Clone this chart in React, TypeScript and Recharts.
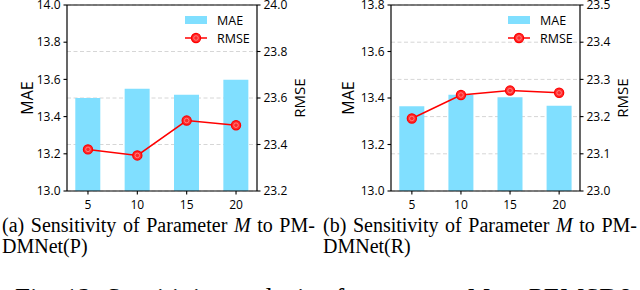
import React from 'react';
import {
  ComposedChart, Bar, Line, XAxis, YAxis, CartesianGrid, ReferenceLine,
} from 'recharts';

const mParams = ['5', '10', '15', '20'];
const maeP = [13.5, 13.55, 13.518, 13.598];
const rmseP = [23.379, 23.353, 23.503, 23.483];
const maeR = [13.364, 13.414, 13.403, 13.367];
const rmseR = [23.195, 23.258, 23.27, 23.264];

const maeTicksP = [13.0, 13.2, 13.4, 13.6, 13.8, 14.0];
const rmseTicksP = [23.2, 23.4, 23.6, 23.8, 24.0];
const maeTicksR = [13.0, 13.2, 13.4, 13.6, 13.8];
const rmseTicksR = [23.0, 23.1, 23.2, 23.3, 23.4, 23.5];

const BAR_COLOR = '#80dfff';
const LINE_COLOR = '#ff0000';
const FONT = '"Open Sans", "Noto Sans", sans-serif';

const RmseDot = (props: any) => {
  const { cx, cy } = props;
  if (cx == null || cy == null) return null;
  return (
    <g>
      <circle cx={cx} cy={cy} r={4.6} fill="#ff2a2a" stroke={LINE_COLOR} strokeWidth={1.2} />
      <circle cx={cx} cy={cy} r={2.3} fill="none" stroke="#ff9090" strokeWidth={0.8} />
    </g>
  );
};

type PanelProps = {
  mae: number[];
  rmse: number[];
  maeTicks: number[];
  rmseTicks: number[];
  leftW: number;
  rightW: number;
  maeOffset: number;
  rmseOffset: number;
  legendX: number;
  left: number;
};

const Panel = (p: PanelProps) => {
  const data = mParams.map((m, i) => ({ idx: i, m, mae: p.mae[i], rmse: p.rmse[i] }));
  const tickStyle = { fontSize: 12, fill: '#000', fontFamily: FONT };
  const axisLine = { stroke: '#000', strokeWidth: 1.2 };
  const tickLine = { stroke: '#000', strokeWidth: 1.1 };
  const maeDom: [number, number] = [p.maeTicks[0], p.maeTicks[p.maeTicks.length - 1]];
  const rmseDom: [number, number] = [p.rmseTicks[0], p.rmseTicks[p.rmseTicks.length - 1]];
  return (
    <div style={{ position: 'absolute', left: p.left, top: 0, width: 320, height: 225 }}>
      <ComposedChart width={320} height={225} data={data}
        margin={{ top: 5, right: 0, bottom: 0, left: 0 }}>
        <CartesianGrid yAxisId="right" vertical={false} stroke="#d6d6d6"
          strokeDasharray="4 2.5" strokeWidth={1} />
        <XAxis dataKey="idx" type="number" domain={[-0.425, 3.425]} ticks={[0, 1, 2, 3]}
          allowDataOverflow tickFormatter={(v: number) => mParams[v] ?? ''}
          height={34} tickSize={3.5} tickMargin={5.5} tick={tickStyle}
          axisLine={axisLine} tickLine={tickLine} interval={0} />
        <YAxis yAxisId="left" orientation="left" width={p.leftW} domain={maeDom}
          ticks={p.maeTicks} allowDataOverflow tickFormatter={(v: number) => v.toFixed(1)}
          tickSize={3.5} tickMargin={3} tick={tickStyle} axisLine={axisLine} tickLine={tickLine}
          interval={0}
          label={{ value: 'MAE', angle: -90, position: 'insideLeft', offset: p.maeOffset,
            style: { textAnchor: 'middle', fontSize: 16, fill: '#000', fontFamily: FONT } }} />
        <YAxis yAxisId="right" orientation="right" width={p.rightW} domain={rmseDom}
          ticks={p.rmseTicks} allowDataOverflow tickFormatter={(v: number) => v.toFixed(1)}
          tickSize={3.5} tickMargin={3} tick={tickStyle} axisLine={axisLine} tickLine={tickLine}
          interval={0}
          label={{ value: 'RMSE', angle: -90, position: 'insideRight', offset: p.rmseOffset,
            style: { textAnchor: 'middle', fontSize: 15, fill: '#000', fontFamily: FONT } }} />
        <Bar yAxisId="left" dataKey="mae" name="MAE" fill={BAR_COLOR} barSize={25}
          isAnimationActive={false} />
        <Line yAxisId="right" dataKey="rmse" name="RMSE" stroke={LINE_COLOR} strokeWidth={1.5}
          dot={<RmseDot />} activeDot={false} isAnimationActive={false} type="linear" />
        <ReferenceLine yAxisId="left" y={maeDom[1]} stroke="#000" strokeWidth={1.2} />
      </ComposedChart>
      <div style={{ position: 'absolute', left: p.legendX, top: 11, fontFamily: FONT,
        fontSize: 12.5, color: '#000', lineHeight: '17px' }}>
        <div style={{ display: 'flex', alignItems: 'center', height: 18 }}>
          <svg width={22} height={10} style={{ marginRight: 10 }}>
            <rect x={0} y={1} width={22} height={8} fill={BAR_COLOR} />
          </svg>
          <span>MAE</span>
        </div>
        <div style={{ display: 'flex', alignItems: 'center', height: 18 }}>
          <svg width={22} height={12} style={{ marginRight: 10 }}>
            <line x1={0} y1={6} x2={22} y2={6} stroke={LINE_COLOR} strokeWidth={1.5} />
            <RmseDot cx={11} cy={6} />
          </svg>
          <span>RMSE</span>
        </div>
      </div>
    </div>
  );
};

const SERIF = '"Liberation Serif", "Times New Roman", serif';
const capStyle = { fontFamily: SERIF, fontSize: 20, fill: '#000' };

export default function App() {
  return (
    <div style={{ position: 'absolute', left: 0, top: 0, width: 640, height: 290,
      background: '#fff', overflow: 'hidden' }}>
      <Panel mae={maeP} rmse={rmseP} maeTicks={maeTicksP} rmseTicks={rmseTicksP}
        leftW={67} rightW={63} maeOffset={27} rmseOffset={20} legendX={185} left={0} />
      <Panel mae={maeR} rmse={rmseR} maeTicks={maeTicksR} rmseTicks={rmseTicksR}
        leftW={71} rightW={60} maeOffset={28} rmseOffset={17} legendX={188} left={320} />
      <svg width={640} height={310} style={{ position: 'absolute', left: 0, top: 0 }}>
        <text x={2} y={232} style={{ ...capStyle, wordSpacing: 1.6 }}>
          (a) Sensitivity of Parameter <tspan fontStyle="italic">M</tspan> to PM-
        </text>
        <text x={2} y={253} style={capStyle}>DMNet(P)</text>
        <text x={323} y={232} style={{ ...capStyle, wordSpacing: 1.6 }}>
          (b) Sensitivity of Parameter <tspan fontStyle="italic">M</tspan> to PM-
        </text>
        <text x={323} y={253} style={capStyle}>DMNet(R)</text>
        <text x={15} y={307} style={{ ...capStyle, fontSize: 27 }}>
          Fig. 12: Sensitivity analysis of parameter <tspan fontStyle="italic">M</tspan> on PEMSD8
        </text>
      </svg>
    </div>
  );
}
